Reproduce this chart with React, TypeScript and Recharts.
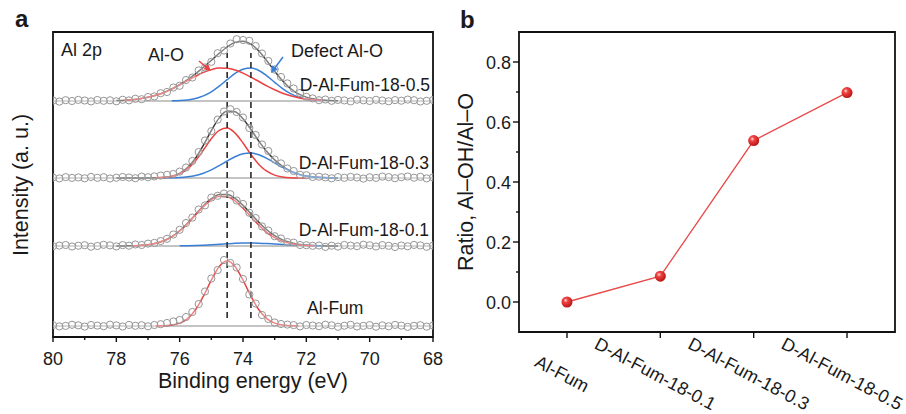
import React from "react";
import {
  ComposedChart,
  LineChart,
  Line,
  Scatter,
  XAxis,
  YAxis,
  ReferenceLine,
  ReferenceArea,
} from "recharts";

const FONT = '"Liberation Sans", Arial, Helvetica, sans-serif';
const RED = "#ec4242";
const BLUE = "#3a7fd6";

// ---- panel a: Al 2p XPS ----
// energies of the measured points (eV)
const dataEnergy = [
  68, 68.2, 68.4, 68.6, 68.8, 69, 69.2, 69.4, 69.6, 69.8, 70, 70.2, 70.4, 70.6, 70.8,
  71, 71.2, 71.4, 71.6, 71.8, 72, 72.2, 72.4, 72.6, 72.8, 73, 73.2, 73.4, 73.6, 73.8,
  74, 74.2, 74.4, 74.6, 74.8, 75, 75.2, 75.4, 75.6, 75.8, 76, 76.2, 76.4, 76.6, 76.8,
  77, 77.2, 77.4, 77.6, 77.8, 78, 78.2, 78.4, 78.6, 78.8, 79, 79.2, 79.4, 79.6, 79.8, 80,
];

// measured intensity above each spectrum's baseline
const alFumData = [
  0.5, -0.6, 0.8, 0.2, -0.9, 0.4, 1.1, -0.3, 0.6, -0.7, 0.9, 0.1, -0.5, 1.2, 0.3, -0.8, 0.7, 1.3, -0.2, 0.5,
  1.0, -0.4, 0.9, 1.4, 2.0, 3.5, 7.0, 11.0, 22.5, 31.5, 47.0, 58.5, 63.0, 66.0, 56.0, 47.5, 34.5, 22.0, 14.0, 9.0,
  6.0, 4.5, 3.0, 1.8, 1.0, -0.3, 0.8, 0.2, 1.1, -0.5, 0.6, 1.3, -0.2, 0.4, 1.0, -0.6, 0.7, 1.2, 0.1, -0.4, 0.9,
];
const d01Data = [
  0.4, -0.8, 0.6, 1.1, -0.3, 0.5, -1.0, 0.2, 0.9, -0.5, 0.7, 1.3, -0.2, 0.4, 1.0, -0.6, 0.3, -0.9, 0.5, 0.2,
  0.8, 1.0, 3.4, 4.0, 7.5, 9.8, 15.5, 19.6, 28.0, 33.2, 42.0, 45.5, 51.8, 52.5, 50.2, 48.4, 40.6, 36.5, 28.4, 23.0,
  16.2, 11.5, 7.2, 5.0, 3.1, 2.4, 1.0, 1.5, 0.3, 0.9, -0.4, 0.6, 1.2, 0.0, -0.7, 0.8, 0.3, -0.5, 1.0, 0.4, -0.2,
];
const d03Data = [
  0.6, -0.4, 1.2, 0.3, 1.5, 0.8, -0.2, 0.9, 1.4, 0.1, 0.7, -0.6, 0.5, 1.1, 0.2, 0.9, -0.3, 0.6, 1.3, 1.0,
  2.8, 3.2, 7.0, 9.5, 14.6, 18.5, 27.0, 33.5, 43.0, 50.0, 60.5, 66.0, 68.8, 66.5, 58.4, 46.8, 37.5, 26.0, 17.0, 10.5,
  6.4, 4.0, 3.2, 2.4, 1.6, 0.8, 1.4, -0.2, 0.5, 1.0, 0.3, -0.5, 0.8, 0.2, 1.1, -0.3, 0.6, 0.1, 0.9, -0.4, 0.5,
];
const d05Data = [
  1.0, 0.2, -0.5, 0.8, 1.4, 0.3, 0.9, -0.3, 0.5, 1.2, 0.0, 0.7, 1.3, -0.4, 0.6, 1.1, 0.2, 1.5, 0.8, 2.6,
  4.2, 8.0, 12.5, 17.6, 24.0, 31.5, 40.0, 47.5, 55.0, 60.2, 61.0, 61.8, 57.5, 50.5, 47.8, 39.2, 33.5, 30.6, 23.5, 21.0,
  15.2, 13.5, 9.0, 7.8, 4.6, 4.0, 1.8, 2.2, 0.6, 1.2, -0.3, 0.7, 0.2, 1.0, -0.4, 0.5, 1.1, 0.0, 0.8, -0.6, 0.4,
];

// energies of the fitted curves (eV)
const fitEnergy = [
  71, 71.25, 71.5, 71.75, 72, 72.25, 72.5, 72.75, 73, 73.25, 73.5, 73.75, 74, 74.25, 74.5,
  74.75, 75, 75.25, 75.5, 75.75, 76, 76.25, 76.5, 76.75, 77, 77.25, 77.5, 77.75, 78,
];

const alFumAlO = [
  null, null, null, null, null, 0.06, 0.25, 0.9, 2.9, 7.4, 16.2, 29.8, 45.9, 59.6, 65,
  59.6, 45.9, 29.8, 16.2, 7.4, 2.9, 0.9, 0.25, 0.06, null, null, null, null, null,
];

const d01AlO = [
  null, null, null, 0.19, 0.48, 1.1, 2.4, 4.6, 8.3, 13.7, 20.9, 29.3, 37.8, 45.0, 49.3,
  49.7, 46.1, 39.4, 31.0, 22.5, 15.0, 9.2, 5.2, 2.7, 1.3, 0.6, 0.2, null, null,
];
const d01Defect = [
  null, null, 0.11, 0.22, 0.4, 0.68, 1.06, 1.52, 2.0, 2.49, 2.84, 3.0, 2.93, 2.65, 2.2,
  1.72, 1.23, 0.82, 0.5, 0.29, 0.15, null, null, null, null, null, null, null, null,
];
const d01Fit = [
  0.03, 0.07, 0.18, 0.41, 0.88, 1.78, 3.46, 6.12, 10.3, 16.2, 23.7, 32.3, 40.7, 47.7, 51.5,
  51.4, 47.3, 40.2, 31.5, 22.8, 15.2, 9.25, 5.2, 2.7, 1.3, 0.6, 0.2, 0.1, 0,
];

const d03AlO = [
  null, null, null, null, 0.02, 0.1, 0.35, 1.1, 2.9, 6.8, 13.6, 23.5, 35.0, 44.9, 49.9,
  47.7, 39.3, 28.0, 17.2, 9.1, 4.15, 1.6, 0.55, 0.16, null, null, null, null, null,
];
const d03Defect = [
  0.05, 0.16, 0.4, 0.94, 2.0, 3.8, 6.7, 10.6, 15.2, 19.7, 23.3, 24.95, 24.2, 21.3, 17.0,
  12.4, 8.1, 4.8, 2.6, 1.3, 0.57, 0.23, 0.08, null, null, null, null, null, null,
];
const d03Fit = [
  0.05, 0.16, 0.4, 0.94, 2.0, 3.9, 7.05, 11.7, 18.1, 26.5, 36.9, 48.45, 59.2, 66.2, 66.9,
  60.1, 47.4, 32.8, 19.8, 10.4, 4.7, 1.83, 0.63, 0.16, 0.04, 0, 0, 0, 0,
];

const d05AlO = [
  null, null, 0.63, 1.16, 2.0, 3.3, 5.2, 7.8, 11.2, 15.1, 19.5, 23.9, 27.9, 31.0, 32.7,
  32.9, 31.4, 28.6, 24.7, 20.4, 16.0, 11.9, 8.4, 5.7, 3.65, 2.2, 1.3, 0.72, null,
];
const d05Defect = [
  null, null, 0.3, 0.79, 1.85, 3.9, 7.3, 12.4, 18.7, 25.2, 30.5, 32.9, 31.8, 27.6, 21.3,
  14.8, 9.2, 5.1, 2.5, 1.1, 0.45, 0.16, null, null, null, null, null, null, null,
];
const d05Fit = [
  0.19, 0.43, 0.93, 1.95, 3.85, 7.2, 12.5, 20.2, 29.9, 40.3, 50.0, 56.8, 59.7, 58.6, 54.0,
  47.7, 40.6, 33.7, 27.2, 21.5, 16.45, 12.06, 8.45, 5.7, 3.65, 2.2, 1.3, 0.72, 0.38,
];

// vertical offset of each stacked spectrum
const alFumLevel = 11;
const d01Level = 91;
const d03Level = 159;
const d05Level = 236;

const baselineEnergy = [68, 80];
const energyTicks = [68, 69, 70, 71, 72, 73, 74, 75, 76, 77, 78, 79, 80];
const peakPositions = [74.5, 73.75];

// ---- panel b: ratio ----
const sampleNames = ["Al-Fum", "D-Al-Fum-18-0.1", "D-Al-Fum-18-0.3", "D-Al-Fum-18-0.5"];
const ratioValues = [0, 0.086, 0.538, 0.698];
const ratioTicks = [0, 0.1, 0.2, 0.3, 0.4, 0.5, 0.6, 0.7, 0.8];
const sampleSlots = [0, 1, 2, 3];

type Val = number | null;
const toPoints = (xs: number[], ys: Val[], off: number) =>
  xs.map((x, i) => ({ x, y: ys[i] == null ? null : (ys[i] as number) + off }));

const EnergyTick = (p: any) => {
  const v = p.payload.value;
  const major = v % 2 === 0;
  return (
    <g>
      <line x1={p.x} x2={p.x} y1={p.y} y2={p.y + (major ? 5 : 3)} stroke="#111" strokeWidth={1.4} />
      {major && (
        <text x={p.x} y={p.y + 28} textAnchor="middle" fontSize={18} fontFamily={FONT} fill="#1a1a1a">
          {v}
        </text>
      )}
    </g>
  );
};

const RatioTick = (p: any) => {
  const v = p.payload.value;
  const major = Math.round(v * 10) % 2 === 0;
  return (
    <g>
      <line x1={p.x - (major ? 6 : 3)} x2={p.x} y1={p.y} y2={p.y} stroke="#111" strokeWidth={1.4} />
      {major && (
        <text x={p.x - 8} y={p.y + 6.5} textAnchor="end" fontSize={18} fontFamily={FONT} fill="#1a1a1a">
          {v.toFixed(1)}
        </text>
      )}
    </g>
  );
};

const CategoryTick = (p: any) => {
  const cx = p.x - 5;
  const cy = p.y + 42;
  return (
    <g>
      <line x1={p.x} x2={p.x} y1={p.y} y2={p.y + 6} stroke="#111" strokeWidth={1.4} />
      <text
        x={cx}
        y={cy}
        textAnchor="middle"
        dominantBaseline="central"
        transform={`rotate(28, ${cx}, ${cy})`}
        fontSize={18}
        fontFamily={FONT}
        fill="#1a1a1a"
      >
        {sampleNames[p.payload.value]}
      </text>
    </g>
  );
};

const SphereDot = (p: any) => (
  <g>
    <defs>
      <radialGradient id="sphere" cx="38%" cy="35%" r="65%">
        <stop offset="0%" stopColor="#ffe0e0" />
        <stop offset="30%" stopColor="#f24444" />
        <stop offset="100%" stopColor="#b81414" />
      </radialGradient>
    </defs>
    <circle cx={p.cx} cy={p.cy} r={5.5} fill="url(#sphere)" />
  </g>
);

const Ring = (p: any) => (
  <circle cx={p.cx} cy={p.cy} r={3.6} fill="#ffffff" fillOpacity={0.35} stroke="#969696" strokeWidth={1} />
);

function PanelA() {
  const spectra = [
    { data: alFumData, level: alFumLevel },
    { data: d01Data, level: d01Level },
    { data: d03Data, level: d03Level },
    { data: d05Data, level: d05Level },
  ];
  const fits = [
    { fit: null, alo: alFumAlO, def: null, level: alFumLevel },
    { fit: d01Fit, alo: d01AlO, def: d01Defect, level: d01Level },
    { fit: d03Fit, alo: d03AlO, def: d03Defect, level: d03Level },
    { fit: d05Fit, alo: d05AlO, def: d05Defect, level: d05Level },
  ];
  return (
    <ComposedChart width={460} height={414} margin={{ top: 32, right: 27, bottom: 27, left: 53 }}>
      <XAxis
        type="number"
        dataKey="x"
        domain={[68, 80]}
        reversed
        allowDataOverflow
        ticks={energyTicks}
        interval={0}
        tickSize={0}
        tickMargin={0}
        tickLine={false}
        axisLine={false}
        tick={(p: any) => <EnergyTick {...p} />}
        height={50}
      />
      <YAxis type="number" dataKey="y" domain={[0, 305]} hide allowDataOverflow />
      {spectra.map((s, i) => (
        <Scatter
          key={`pts-${i}`}
          data={toPoints(dataEnergy, s.data, s.level)}
          shape={(p: any) => <Ring {...p} />}
          isAnimationActive={false}
        />
      ))}
      {spectra.map((s, i) => (
        <Line
          key={`base-${i}`}
          data={toPoints(baselineEnergy, [0, 0], s.level)}
          dataKey="y"
          type="linear"
          stroke="#8a8a8a"
          strokeWidth={1.2}
          dot={false}
          isAnimationActive={false}
        />
      ))}
      {fits.map((f, i) =>
        f.fit ? (
          <Line
            key={`fit-${i}`}
            data={toPoints(fitEnergy, f.fit, f.level)}
            dataKey="y"
            type="monotone"
            stroke="#3a3a3a"
            strokeWidth={1.5}
            dot={false}
            isAnimationActive={false}
          />
        ) : null
      )}
      {fits.map((f, i) =>
        f.def ? (
          <Line
            key={`def-${i}`}
            data={toPoints(fitEnergy, f.def, f.level)}
            dataKey="y"
            type="monotone"
            stroke={BLUE}
            strokeWidth={1.5}
            dot={false}
            isAnimationActive={false}
          />
        ) : null
      )}
      {fits.map((f, i) => (
        <Line
          key={`alo-${i}`}
          data={toPoints(fitEnergy, f.alo, f.level)}
          dataKey="y"
          type="monotone"
          stroke={RED}
          strokeWidth={1.5}
          dot={false}
          isAnimationActive={false}
        />
      ))}
      {peakPositions.map((e) => (
        <ReferenceLine
          key={`dash-${e}`}
          segment={[
            { x: e, y: 19 },
            { x: e, y: 284 },
          ]}
          stroke="#2a2a2a"
          strokeWidth={1.6}
          strokeDasharray="6 4"
        />
      ))}
      <ReferenceArea x1={68} x2={80} y1={0} y2={305} fill="none" stroke="#111" strokeWidth={1.8} />
    </ComposedChart>
  );
}

function PanelB() {
  const rows = sampleSlots.map((slot, i) => ({ slot, ratio: ratioValues[i] }));
  return (
    <LineChart width={446} height={414} data={rows} margin={{ top: 32, right: 11, bottom: 0, left: 0 }}>
      <XAxis
        dataKey="slot"
        type="number"
        domain={[-0.514, 3.514]}
        allowDataOverflow
        ticks={sampleSlots}
        height={82}
        interval={0}
        tickSize={0}
        tickMargin={0}
        tickLine={false}
        axisLine={false}
        tick={(p: any) => <CategoryTick {...p} />}
      />
      <YAxis
        type="number"
        domain={[-0.1, 0.9]}
        allowDataOverflow
        ticks={ratioTicks}
        interval={0}
        width={59}
        tickSize={0}
        tickMargin={0}
        tickLine={false}
        axisLine={false}
        tick={(p: any) => <RatioTick {...p} />}
      />
      <ReferenceArea x1={-0.514} x2={3.514} y1={-0.1} y2={0.9} fill="none" stroke="#111" strokeWidth={1.8} />
      <Line
        dataKey="ratio"
        type="linear"
        stroke="#e84a4a"
        strokeWidth={1.3}
        dot={(p: any) => <SphereDot key={`dot-${p.index}`} {...p} />}
        isAnimationActive={false}
      />
    </LineChart>
  );
}

const txt = { fontFamily: FONT, fill: "#1a1a1a" } as const;

export default function App() {
  return (
    <div style={{ position: "absolute", left: 0, top: 0, width: 906, height: 414, background: "#fff" }}>
      <div style={{ position: "absolute", left: 0, top: 0 }}>
        <PanelA />
      </div>
      <div style={{ position: "absolute", left: 460, top: 0 }}>
        <PanelB />
      </div>
      <svg
        width={906}
        height={414}
        style={{ position: "absolute", left: 0, top: 0, pointerEvents: "none" }}
      >
        <text x={15} y={27} fontSize={24} fontWeight="bold" {...txt}>a</text>
        <text x={460} y={28} fontSize={24} fontWeight="bold" {...txt}>b</text>
        <text x={61} y={56} fontSize={18} {...txt}>Al 2p</text>
        <text x={148} y={61} fontSize={18} {...txt}>Al-O</text>
        <text x={291} y={57} fontSize={18} {...txt}>Defect Al-O</text>
        <text x={430} y={91} fontSize={17.5} textAnchor="end" {...txt}>D-Al-Fum-18-0.5</text>
        <text x={429} y={169} fontSize={17.5} textAnchor="end" {...txt}>D-Al-Fum-18-0.3</text>
        <text x={429} y={236} fontSize={17.5} textAnchor="end" {...txt}>D-Al-Fum-18-0.1</text>
        <text x={307} y={314} fontSize={17.5} {...txt}>Al-Fum</text>
        <text x={253} y={388} fontSize={21.5} textAnchor="middle" {...txt}>Binding energy (eV)</text>
        <text x={28} y={185} fontSize={21.5} textAnchor="middle" transform="rotate(-90, 28, 185)" {...txt}>
          Intensity (a. u.)
        </text>
        <text x={473} y={182} fontSize={21.5} textAnchor="middle" transform="rotate(-90, 473, 182)" {...txt}>
          Ratio, Al–OH/Al–O
        </text>
        <line x1={199} y1={61} x2={207} y2={67.7} stroke={RED} strokeWidth={1.5} />
        <polygon points="211,71 203.4,69.2 207.9,63.8" fill={RED} />
        <line x1={283} y1={57} x2={274.6} y2={68.2} stroke={BLUE} strokeWidth={1.5} />
        <polygon points="271,73 278,69.5 272.4,65.3" fill={BLUE} />
      </svg>
    </div>
  );
}
